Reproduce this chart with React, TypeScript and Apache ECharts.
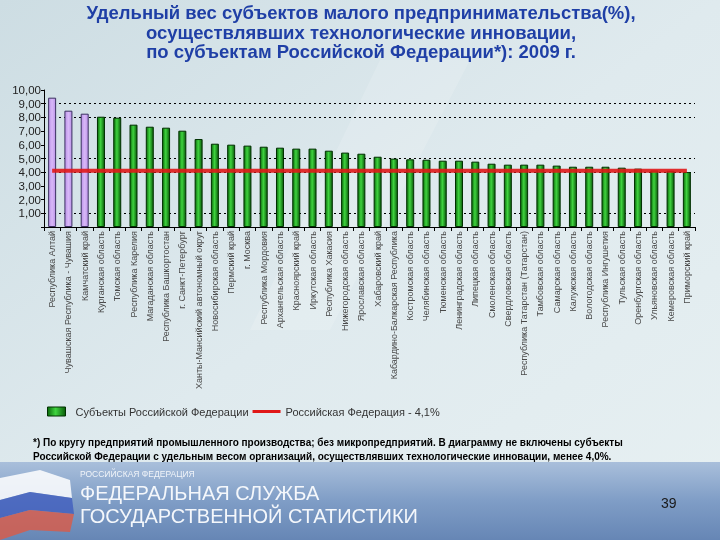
import React, { useEffect, useRef } from "react";
import * as echarts from "echarts";

const categories: string[] = [
  "Республика Алтай",
  "Чувашская Республика - Чувашия",
  "Камчатский край",
  "Курганская область",
  "Томская область",
  "Республика Карелия",
  "Магаданская область",
  "Республика Башкортостан",
  "г. Санкт-Петербург",
  "Ханты-Мансийский автономный округ",
  "Новосибирская область",
  "Пермский край",
  "г. Москва",
  "Республика Мордовия",
  "Архангельская область",
  "Красноярский край",
  "Иркутская область",
  "Республика Хакасия",
  "Нижегородская область",
  "Ярославская область",
  "Хабаровский край",
  "Кабардино-Балкарская Республика",
  "Костромская область",
  "Челябинская область",
  "Тюменская область",
  "Ленинградская область",
  "Липецкая область",
  "Смоленская область",
  "Свердловская область",
  "Республика Татарстан (Татарстан)",
  "Тамбовская область",
  "Самарская область",
  "Калужская область",
  "Вологодская область",
  "Республика Ингушетия",
  "Тульская область",
  "Оренбургская область",
  "Ульяновская область",
  "Кемеровская область",
  "Приморский край",
];

const subjectValues: number[] = [
  9.44, 8.49, 8.27, 8.05, 7.98, 7.47, 7.32, 7.25, 7.03, 6.42,
  6.08, 6.01, 5.94, 5.86, 5.79, 5.72, 5.72, 5.57, 5.43, 5.35,
  5.13, 4.99, 4.94, 4.91, 4.84, 4.84, 4.77, 4.62, 4.55, 4.55,
  4.55, 4.48, 4.40, 4.40, 4.40, 4.33, 4.26, 4.13, 4.10, 4.01,
];

const highlightedCount = 3;
const federationValue = 4.1;
const gridLineValues: number[] = [9, 8, 5, 4, 1];

const seriesNames = ["Субъекты Российской Федерации", "Российская Федерация - 4,1%"];

const titleLines = [
  "Удельный вес субъектов малого предпринимательства(%),",
  "осуществлявших технологические инновации,",
  "по субъектам Российской Федерации*): 2009 г.",
];

const footnoteLines = [
  "*) По кругу предприятий промышленного производства; без микропредприятий. В диаграмму не включены субъекты",
  "Российской Федерации с удельным весом организаций, осуществлявших технологические инновации, менее 4,0%.",
];

export default function App() {
  const ref = useRef<HTMLDivElement>(null);

  useEffect(() => {
    if (!ref.current) return;
    const chart = echarts.init(ref.current, null, { renderer: "svg" });

    const greenGrad = new echarts.graphic.LinearGradient(0, 0, 1, 0, [
      { offset: 0, color: "#0b6a0b" },
      { offset: 0.45, color: "#3fd43f" },
      { offset: 1, color: "#0a5c0a" },
    ]);
    const purple = new echarts.graphic.LinearGradient(0, 0, 1, 0, [
      { offset: 0, color: "#bb92e8" },
      { offset: 0.5, color: "#d8b8f8" },
      { offset: 1, color: "#bb92e8" },
    ]);

    const barData = subjectValues.map((v, i) =>
      i < highlightedCount
        ? { value: v, itemStyle: { color: purple, borderColor: "#3a3060", borderWidth: 1 } }
        : { value: v }
    );

    const option: any = {
      animation: false,
      backgroundColor: "transparent",
      textStyle: { fontFamily: "Liberation Sans, Arial, sans-serif" },
      graphic: [
        {
          type: "rect",
          z: -10,
          silent: true,
          shape: { x: 0, y: 0, width: 720, height: 540 },
          style: {
            fill: new echarts.graphic.LinearGradient(0, 0, 1, 1, [
              { offset: 0, color: "#cddde3" },
              { offset: 0.5, color: "#dfeaee" },
              { offset: 1, color: "#e7f0f2" },
            ]),
          },
        },
        {
          type: "polygon",
          z: -9,
          silent: true,
          shape: { points: [[380, 60], [470, 60], [330, 330], [250, 330]] },
          style: { fill: "rgba(255,255,255,0.15)" },
        },
        {
          type: "rect",
          z: -8,
          silent: true,
          shape: { x: 0, y: 462, width: 720, height: 78 },
          style: {
            fill: new echarts.graphic.LinearGradient(0, 0, 0, 1, [
              { offset: 0, color: "#a9bfdb" },
              { offset: 0.5, color: "#7f9dc6" },
              { offset: 1, color: "#6686b5" },
            ]),
          },
        },
        {
          type: "polygon",
          z: -7,
          silent: true,
          shape: { points: [[0, 478], [40, 470], [70, 480], [72, 498], [30, 492], [0, 500]] },
          style: { fill: "rgba(255,255,255,0.85)" },
        },
        {
          type: "polygon",
          z: -7,
          silent: true,
          shape: { points: [[0, 500], [30, 492], [72, 498], [74, 514], [30, 510], [0, 518]] },
          style: { fill: "rgba(60,90,190,0.75)" },
        },
        {
          type: "polygon",
          z: -7,
          silent: true,
          shape: { points: [[0, 518], [30, 510], [74, 514], [70, 532], [30, 530], [0, 540]] },
          style: { fill: "rgba(220,90,70,0.8)" },
        },
        {
          type: "text",
          x: 80,
          y: 469,
          style: {
            text: "РОССИЙСКАЯ ФЕДЕРАЦИЯ",
            fill: "rgba(255,255,255,0.85)",
            font: "8.5px Liberation Sans, Arial, sans-serif",
          },
        },
        {
          type: "text",
          x: 80,
          y: 483,
          style: {
            text: "ФЕДЕРАЛЬНАЯ СЛУЖБА",
            fill: "#f4f7fb",
            font: "20px Liberation Sans, Arial, sans-serif",
          },
        },
        {
          type: "text",
          x: 80,
          y: 506,
          style: {
            text: "ГОСУДАРСТВЕННОЙ СТАТИСТИКИ",
            fill: "#f4f7fb",
            font: "20px Liberation Sans, Arial, sans-serif",
          },
        },
        {
          type: "text",
          x: 661,
          y: 496,
          style: {
            text: "39",
            fill: "#1a1a1a",
            font: "14px Liberation Sans, Arial, sans-serif",
          },
        },
        ...titleLines.map((t, i) => ({
          type: "text",
          x: 361,
          y: 3 + i * 19.5,
          style: {
            text: t,
            textAlign: "center",
            fill: "#1f3fa6",
            font: "bold 18.5px Liberation Sans, Arial, sans-serif",
          },
        })),
        {
          type: "text",
          x: 33,
          y: 435,
          style: {
            text: footnoteLines.join("\n"),
            lineHeight: 14.5,
            fill: "#000000",
            font: "bold 10px Liberation Sans, Arial, sans-serif",
          },
        },
      ],
      legend: {
        left: 42,
        top: 401,
        itemGap: 4,
        itemWidth: 28,
        itemHeight: 9,
        symbolKeepAspect: true,
        textStyle: { fontSize: 11, color: "#333", fontFamily: "Liberation Sans, Arial" },
        data: [
          {
            name: seriesNames[0],
            icon: "path://M0 0H18V9H0Z",
            itemStyle: { color: greenGrad, borderColor: "#003000", borderWidth: 1 },
          },
          {
            name: seriesNames[1],
            icon: "path://M0 0H28V3H0Z",
            itemStyle: { color: "#e01818" },
          },
        ],
      },
      grid: { left: 44, right: 25, top: 90, bottom: 313, containLabel: false },
      xAxis: {
        type: "category",
        data: categories,
        axisLine: { lineStyle: { color: "#000", width: 1 } },
        axisTick: { show: true, length: 4, lineStyle: { color: "#000" } },
        axisLabel: {
          rotate: 90,
          interval: 0,
          fontSize: 9,
          color: "#4a4a4a",
          margin: 4,
          fontFamily: "Liberation Sans, Arial, sans-serif",
        },
      },
      yAxis: {
        type: "value",
        min: 0,
        max: 10,
        interval: 1,
        splitLine: { show: false },
        axisLine: { show: true, lineStyle: { color: "#000" } },
        axisTick: { show: true, length: 3, lineStyle: { color: "#000" } },
        axisLabel: {
          fontSize: 11.5,
          color: "#222",
          margin: 3,
          fontFamily: "Liberation Sans, Arial",
          formatter: (v: number) => (v === 0 ? "" : v.toFixed(2).replace(".", ",")),
        },
      },
      series: [
        {
          name: seriesNames[0],
          type: "bar",
          data: barData,
          barWidth: 8,
          itemStyle: { color: greenGrad, borderColor: "#003000", borderWidth: 1 },
          markLine: {
            silent: true,
            symbol: "none",
            label: { show: false },
            lineStyle: { type: [2, 3], color: "#000", width: 1 },
            z: 1,
            data: gridLineValues.map((v) => ({ yAxis: v })),
          },
        },
        {
          name: seriesNames[1],
          type: "line",
          data: categories.map(() => federationValue),
          symbol: "none",
          showSymbol: false,
          lineStyle: { color: "#e01818", width: 4, opacity: 0.9 },
          itemStyle: { color: "#e01818" },
          z: 5,
        },
      ],
    };

    chart.setOption(option);
    return () => chart.dispose();
  }, []);

  return (
    <div
      ref={ref}
      style={{ position: "fixed", left: 0, top: 0, width: 720, height: 540 }}
    />
  );
}
